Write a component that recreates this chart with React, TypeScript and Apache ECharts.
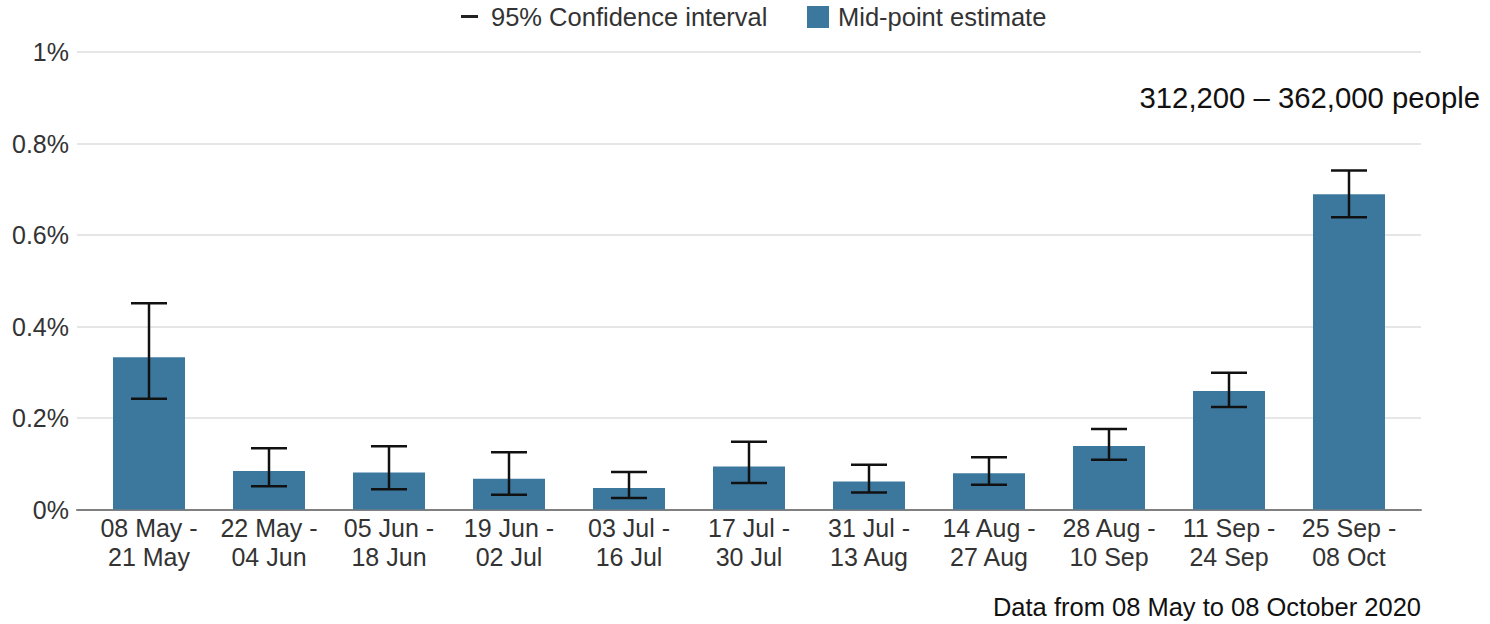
import React, { useEffect, useRef } from "react";
import * as echarts from "echarts";

const periodLabels = [
  "08 May -\n21 May",
  "22 May -\n04 Jun",
  "05 Jun -\n18 Jun",
  "19 Jun -\n02 Jul",
  "03 Jul -\n16 Jul",
  "17 Jul -\n30 Jul",
  "31 Jul -\n13 Aug",
  "14 Aug -\n27 Aug",
  "28 Aug -\n10 Sep",
  "11 Sep -\n24 Sep",
  "25 Sep -\n08 Oct",
];

// Percentage of population testing positive (mid-point estimate)
const midpoint = [0.333, 0.084, 0.081, 0.067, 0.047, 0.094, 0.061, 0.079, 0.139, 0.259, 0.689];
// 95% confidence interval bounds
const lowerCI = [0.242, 0.051, 0.044, 0.032, 0.025, 0.058, 0.037, 0.054, 0.109, 0.224, 0.639];
const upperCI = [0.451, 0.134, 0.138, 0.125, 0.082, 0.148, 0.098, 0.114, 0.176, 0.299, 0.741];

const yTicks = [0, 0.2, 0.4, 0.6, 0.8, 1];

const legendCI = "95% Confidence interval";
const legendMid = "Mid-point estimate";
const annotationText = "312,200 \u2013 362,000 people";
const sourceText = "Data from 08 May to 08 October 2020";

const BAR_COLOR = "#3C789E";
const FONT = "'Liberation Sans', Arial, Helvetica, sans-serif";
const TEXT = "#333333";

export default function App() {
  const ref = useRef<HTMLDivElement>(null);

  useEffect(() => {
    if (!ref.current) return;
    const chart = echarts.init(ref.current, null, { renderer: "svg" });
    const idx = periodLabels.map((_, i) => i);

    const option: any = {
      animation: false,
      backgroundColor: "#ffffff",
      textStyle: { fontFamily: FONT },
      grid: { left: 77, right: 69, top: 52, bottom: 114.5, containLabel: false },
      xAxis: {
        type: "value",
        min: -0.6,
        max: 10.6,
        splitLine: { show: false },
        axisTick: { show: false },
        axisLine: { show: true, onZero: false, lineStyle: { color: "#808080", width: 2 } },
        axisLabel: {
          customValues: idx,
          formatter: (v: number) => periodLabels[Math.round(v)] ?? "",
          color: TEXT,
          fontSize: 25,
          fontFamily: FONT,
          lineHeight: 29,
          margin: 4,
        },
      },
      yAxis: {
        type: "value",
        min: 0,
        max: 1,
        interval: 0.2,
        axisLine: { show: false },
        axisTick: { show: false },
        splitLine: { show: true, lineStyle: { color: "#DEDEDE", width: 1.5 } },
        axisLabel: {
          customValues: yTicks,
          formatter: (v: number) => {
            const r = Math.round(v * 10) / 10;
            return `${r}%`;
          },
          color: TEXT,
          fontSize: 25,
          fontFamily: FONT,
          margin: 8,
        },
      },
      series: [
        {
          name: legendMid,
          type: "bar",
          barWidth: 72,
          itemStyle: { color: BAR_COLOR },
          data: midpoint.map((v, i) => [i, v]),
          z: 2,
        },
        {
          name: legendCI,
          type: "custom",
          z: 5,
          encode: { x: 0, y: [1, 2] },
          data: lowerCI.map((lo, i) => [i, lo, upperCI[i]]),
          renderItem: (params: any, api: any) => {
            const x = api.value(0);
            const lo = api.value(1);
            const hi = api.value(2);
            const pLo = api.coord([x, lo]);
            const pHi = api.coord([x, hi]);
            const hw = api.size([1, 0])[0] * 0.15;
            const style = { stroke: "#111111", lineWidth: 2.5 };
            return {
              type: "group",
              children: [
                { type: "line", shape: { x1: pLo[0], y1: pLo[1], x2: pHi[0], y2: pHi[1] }, style },
                { type: "line", shape: { x1: pLo[0] - hw, y1: pLo[1], x2: pLo[0] + hw, y2: pLo[1] }, style },
                { type: "line", shape: { x1: pHi[0] - hw, y1: pHi[1], x2: pHi[0] + hw, y2: pHi[1] }, style },
              ],
            };
          },
        },
      ],
      graphic: [
        {
          type: "line",
          shape: { x1: 461, y1: 16.5, x2: 478, y2: 16.5 },
          style: { stroke: "#222222", lineWidth: 3 },
        },
        {
          type: "text",
          x: 491,
          y: 17,
          style: {
            text: legendCI,
            fill: TEXT,
            font: `25.5px ${FONT}`,
            textAlign: "left",
            textVerticalAlign: "middle",
          },
        },
        {
          type: "rect",
          shape: { x: 807, y: 6, width: 22, height: 22 },
          style: { fill: BAR_COLOR },
        },
        {
          type: "text",
          x: 838,
          y: 17,
          style: {
            text: legendMid,
            fill: TEXT,
            font: `25.5px ${FONT}`,
            textAlign: "left",
            textVerticalAlign: "middle",
          },
        },
        {
          type: "text",
          x: 1480,
          y: 97,
          style: {
            text: annotationText,
            fill: "#111111",
            font: `29.3px ${FONT}`,
            textAlign: "right",
            textVerticalAlign: "middle",
          },
        },
        {
          type: "text",
          x: 1421,
          y: 607,
          style: {
            text: sourceText,
            fill: "#111111",
            font: `25.5px ${FONT}`,
            textAlign: "right",
            textVerticalAlign: "middle",
          },
        },
      ],
    };

    chart.setOption(option);
    return () => chart.dispose();
  }, []);

  return (
    <div
      ref={ref}
      style={{ position: "fixed", left: 0, top: 0, width: 1490, height: 624 }}
    />
  );
}
